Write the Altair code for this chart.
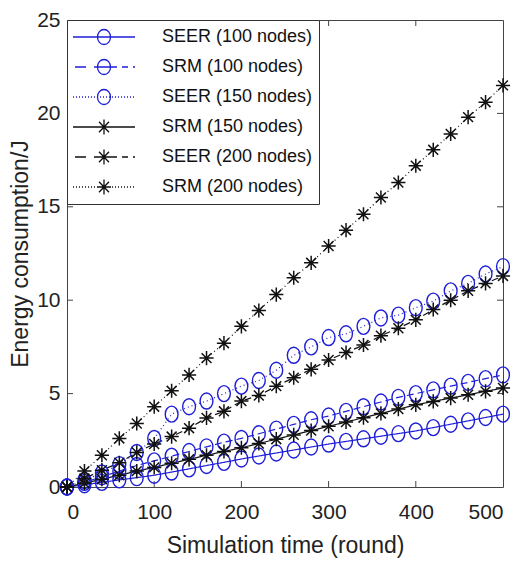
import altair as alt
import pandas as pd

rounds = [0, 20, 40, 60, 80, 100, 120, 140, 160, 180, 200, 220, 240, 260, 280,
          300, 320, 340, 360, 380, 400, 420, 440, 460, 480, 500]

seer100 = [0, 0.12, 0.25, 0.38, 0.5, 0.63, 0.8, 0.97, 1.15, 1.32, 1.5, 1.66, 1.82,
           1.98, 2.14, 2.3, 2.44, 2.58, 2.72, 2.86, 3.0, 3.18, 3.36, 3.54, 3.72, 3.9]
srm100 = [0, 0.25, 0.55, 0.85, 1.15, 1.4, 1.65, 1.9, 2.15, 2.4, 2.6, 2.85, 3.1,
          3.35, 3.6, 3.8, 4.05, 4.3, 4.55, 4.8, 5.0, 5.2, 5.4, 5.6, 5.8, 6.0]
seer150 = [0, 0.35, 0.75, 1.2, 1.85, 2.6, 3.9, 4.3, 4.6, 5.0, 5.4, 5.7, 6.25,
           7.05, 7.5, 8.0, 8.2, 8.6, 9.05, 9.2, 9.6, 9.95, 10.5, 10.9, 11.4, 11.8]
srm150 = [0, 0.2, 0.42, 0.63, 0.85, 1.05, 1.27, 1.48, 1.7, 1.9, 2.1, 2.33, 2.56,
          2.79, 3.02, 3.25, 3.48, 3.71, 3.94, 4.17, 4.4, 4.58, 4.76, 4.94, 5.12, 5.3]
seer200 = [0, 0.45, 0.9, 1.3, 1.85, 2.3, 2.7, 3.15, 3.7, 4.05, 4.6, 4.9, 5.4,
           5.85, 6.3, 6.8, 7.2, 7.6, 8.1, 8.5, 8.95, 9.5, 10.0, 10.5, 10.9, 11.3]
srm200 = [0, 0.85, 1.7, 2.6, 3.4, 4.3, 5.15, 6.0, 6.9, 7.7, 8.6, 9.45, 10.3,
          11.2, 12.0, 12.9, 13.75, 14.6, 15.5, 16.3, 17.2, 18.05, 18.9, 19.8, 20.6, 21.5]

names = ["SEER (100 nodes)", "SRM (100 nodes)", "SEER (150 nodes)",
         "SRM (150 nodes)", "SEER (200 nodes)", "SRM (200 nodes)"]
values = [seer100, srm100, seer150, srm150, seer200, srm200]
line_styles = ["solid", "dashed", "dotted", "solid", "dashed", "dotted"]

x_ticks = [0, 100, 200, 300, 400, 500]
y_ticks = [0, 5, 10, 15, 20, 25]

BLUE = "#1e1ed8"
BLACK = "#111111"
colors = [BLUE, BLUE, BLUE, BLACK, BLACK, BLACK]
style_names = ["solid", "dashed", "dotted"]
style_dashes = [[1, 0], [7, 4], [1, 3]]

rows = []
for n, st, vals in zip(names, line_styles, values):
    for r, v in zip(rounds, vals):
        rows.append({"series": n, "style": st, "round": r, "energy": v})
df = pd.DataFrame(rows)

W, H = 436, 467
FONT = "Liberation Sans"

ELLIPSE = "M-0.8,0A0.8,1 0 1,1 0.8,0A0.8,1 0 1,1 -0.8,0Z"
STAR = "M-1,0L1,0M0,-1L0,1M-0.7,-0.7L0.7,0.7M-0.7,0.7L0.7,-0.7"

# legend symbols: size 400 -> 10 px per path unit; marker at +2 units
lc = "M1.35,0A0.65,0.75 0 1,1 2.65,0A0.65,0.75 0 1,1 1.35,0"
ls = "M1.3,0L2.7,0M2,-0.75L2,0.75M1.5,-0.53L2.5,0.53M1.5,0.53L2.5,-0.53"
solid = "M-1.1,0L5.1,0"
dashed = "M-0.9,0L0.2,0M1.0,0L3.3,0M3.8,0L4.4,0M4.9,0L5.1,0"
dotted = "".join("M%.2f,0L%.2f,0" % (-1.1 + i * 0.3, -1.1 + i * 0.3 + 0.1) for i in range(21))
legend_paths = [solid + lc, dashed + lc, dotted + lc, solid + ls, dashed + ls, dotted + ls]

x_axis = alt.Axis(values=x_ticks, title="Simulation time (round)")
y_axis = alt.Axis(values=y_ticks, title="Energy consumption/J")
x_scale = alt.Scale(domain=[0, 500], nice=False)
y_scale = alt.Scale(domain=[0, 25], nice=False)
x_enc = alt.X("round:Q", scale=x_scale, axis=x_axis)
y_enc = alt.Y("energy:Q", scale=y_scale, axis=y_axis)
dash_enc = alt.StrokeDash("style:N", scale=alt.Scale(domain=style_names, range=style_dashes),
                          legend=None)

blue_f = alt.FieldOneOfPredicate(field="series", oneOf=names[:3])
black_f = alt.FieldOneOfPredicate(field="series", oneOf=names[3:])

blue_lines = alt.Chart(df).transform_filter(blue_f).mark_line(
    strokeWidth=1.2, color=BLUE).encode(x=x_enc, y=y_enc, strokeDash=dash_enc, detail="series:N")
black_lines = alt.Chart(df).transform_filter(black_f).mark_line(
    strokeWidth=1.2, color=BLACK).encode(x=x_enc, y=y_enc, strokeDash=dash_enc, detail="series:N")

circles = alt.Chart(df).transform_filter(blue_f).mark_point(
    filled=False, shape=ELLIPSE, size=256, strokeWidth=1.4, opacity=1, color=BLUE
).encode(x=x_enc, y=y_enc)

stars = alt.Chart(df).transform_filter(black_f).mark_point(
    filled=False, shape=STAR, size=200, strokeWidth=1.5, opacity=1, color=BLACK
).encode(x=x_enc, y=y_enc)

# legend-only layer: points placed far below the plot and clipped away
legend_layer = alt.Chart(df).transform_calculate(hidden="-100").mark_point(
    filled=False, strokeWidth=1.3, clip=True, opacity=1
).encode(
    x=x_enc,
    y=alt.Y("hidden:Q", scale=y_scale, axis=y_axis),
    color=alt.Color("series:N", scale=alt.Scale(domain=names, range=colors),
                    legend=alt.Legend(title=None, orient="top-left", offset=0)),
    shape=alt.Shape("series:N", scale=alt.Scale(domain=names, range=legend_paths),
                    legend=alt.Legend(title=None, orient="top-left", offset=0)),
)

tick_x = pd.DataFrame({"t": x_ticks[1:-1]})
tick_y = pd.DataFrame({"t": y_ticks[1:-1]})
tick_col = "#444444"
bt = alt.Chart(tick_x).mark_rule(color=tick_col, strokeWidth=1).encode(
    x="t:Q", y=alt.value(H), y2=alt.value(H - 6))
tt = alt.Chart(tick_x).mark_rule(color=tick_col, strokeWidth=1).encode(
    x="t:Q", y=alt.value(0), y2=alt.value(6))
lt = alt.Chart(tick_y).mark_rule(color=tick_col, strokeWidth=1).encode(
    y="t:Q", x=alt.value(0), x2=alt.value(6))
rt = alt.Chart(tick_y).mark_rule(color=tick_col, strokeWidth=1).encode(
    y="t:Q", x=alt.value(W), x2=alt.value(W - 6))

chart = alt.layer(bt, tt, lt, rt, blue_lines, black_lines, circles, stars, legend_layer).properties(
    width=W, height=H,
    autosize=alt.AutoSizeParams(type="none"),
    padding={"left": 59, "top": 12, "right": 11, "bottom": 72},
).configure_view(
    stroke="#444444", strokeWidth=1
).configure_axis(
    grid=False, ticks=False, domain=False, tickSize=0,
    labelFont=FONT, labelFontSize=21, labelColor="#222222",
    titleFont=FONT, titleFontSize=23, titleColor="#222222", titleFontWeight="normal",
).configure_axisX(
    labelPadding=14, titlePadding=12,
).configure_axisY(
    labelPadding=7, titlePadding=4,
).configure_legend(
    labelFont=FONT, labelFontSize=18, labelColor="#111111",
    labelOffset=67, symbolSize=400, symbolStrokeWidth=1.3, symbolOpacity=1,
    fillColor="white", strokeColor="#333333", strokeWidth=1, cornerRadius=0,
    padding=6, rowPadding=8,
)

chart.save("out.html", embed_options={"renderer": "svg", "actions": False})
